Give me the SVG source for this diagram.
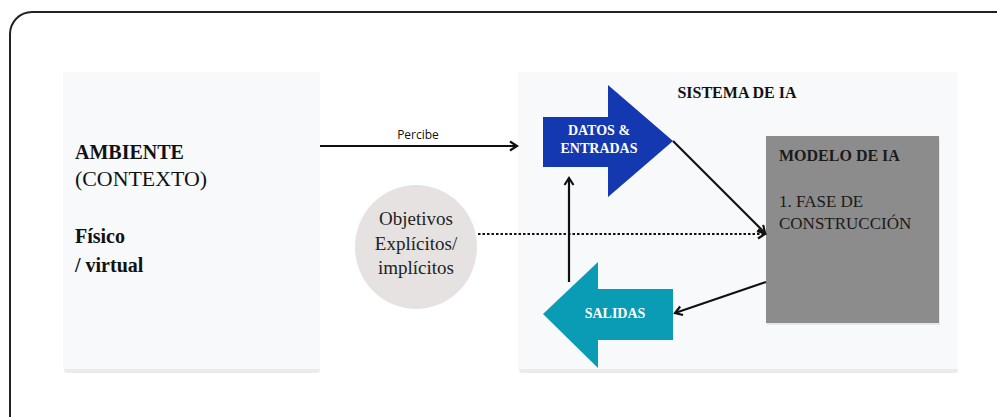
<svg xmlns="http://www.w3.org/2000/svg" width="997" height="417" viewBox="0 0 997 417">
<defs>
<marker id="chev" markerWidth="12" markerHeight="12" refX="9" refY="6" orient="auto" markerUnits="userSpaceOnUse">
<path d="M2,1.5 L9,6 L2,10.5" fill="none" stroke="#111" stroke-width="2.2"/>
</marker>
</defs>
<style>
.panel{fill:#f8f9fb}
.shadow{fill:#e9ebee}
.serif{font-family:"Liberation Serif","Times New Roman",serif}
.b{font-weight:bold}
.con{stroke:#111;stroke-width:2.2;fill:none}
</style>
<rect x="10" y="12" width="1010" height="430" rx="22" fill="#fff" stroke="#222" stroke-width="2"/>
<g id="ambiente">
<rect class="shadow" x="64" y="74" width="256" height="299" rx="3"/>
<rect class="panel" x="63" y="72" width="257" height="297"/>
<text class="serif b" x="75" y="159" font-size="20" fill="#111">AMBIENTE</text>
<text class="serif" x="75" y="186" font-size="20" fill="#111" textLength="132" lengthAdjust="spacingAndGlyphs">(CONTEXTO)</text>
<text class="serif b" x="75" y="243" font-size="20" fill="#111">Físico</text>
<text class="serif b" x="75" y="272" font-size="20" fill="#111">/ virtual</text>
</g>
<g id="sistema">
<rect class="shadow" x="519" y="74" width="439" height="299" rx="3"/>
<rect class="panel" x="518" y="72" width="440" height="297"/>
<text class="serif b" x="737" y="98" font-size="16" text-anchor="middle" fill="#111">SISTEMA DE IA</text>
</g>
<g id="modelo">
<rect x="767" y="138" width="173" height="187" fill="#e4e6e9"/>
<rect x="766" y="136" width="173" height="187" fill="#8c8c8c"/>
<text class="serif b" x="779" y="161" font-size="16" fill="#1a1a1a">MODELO DE IA</text>
<text class="serif" x="779" y="207" font-size="17" fill="#1a1a1a">1. FASE DE</text>
<text class="serif" x="779" y="229" font-size="17" fill="#1a1a1a">CONSTRUCCIÓN</text>
</g>
<g id="datos">
<polygon points="543,117 608,117 608,85 673,141 608,197 608,167 543,167" fill="#1438b0"/>
<text class="serif b" x="599" y="135" font-size="14" fill="#fff" text-anchor="middle">DATOS &amp;</text>
<text class="serif b" x="599" y="153" font-size="14" fill="#fff" text-anchor="middle">ENTRADAS</text>
</g>
<g id="salidas">
<polygon points="673,289 598,289 598,262 543,314 598,368 598,340 673,340" fill="#0a9bb5"/>
<text class="serif b" x="615" y="318" font-size="14" fill="#fff" text-anchor="middle">SALIDAS</text>
</g>
<g id="objetivos">
<ellipse cx="416" cy="247" rx="61" ry="62" fill="#e6e2e1"/>
<text class="serif" x="416" y="225" font-size="19" fill="#222" text-anchor="middle">Objetivos</text>
<text class="serif" x="416" y="250" font-size="19" fill="#222" text-anchor="middle">Explícitos/</text>
<text class="serif" x="416" y="274" font-size="19" fill="#222" text-anchor="middle">implícitos</text>
</g>
<g id="connectors">
<line class="con" x1="320" y1="146" x2="517" y2="146" marker-end="url(#chev)"/>
<text x="418" y="139" font-family="Open Sans, sans-serif" font-size="12" text-anchor="middle" fill="#111">Percibe</text>
<line class="con" x1="478" y1="234" x2="765" y2="234" stroke-width="3" stroke-dasharray="2.5,2" marker-end="url(#chev)"/>
<line class="con" x1="673" y1="141" x2="765" y2="233" marker-end="url(#chev)"/>
<line class="con" x1="766" y1="282" x2="675" y2="313" marker-end="url(#chev)"/>
<line class="con" x1="569" y1="282" x2="569" y2="178" marker-end="url(#chev)"/>
</g>
</svg>
